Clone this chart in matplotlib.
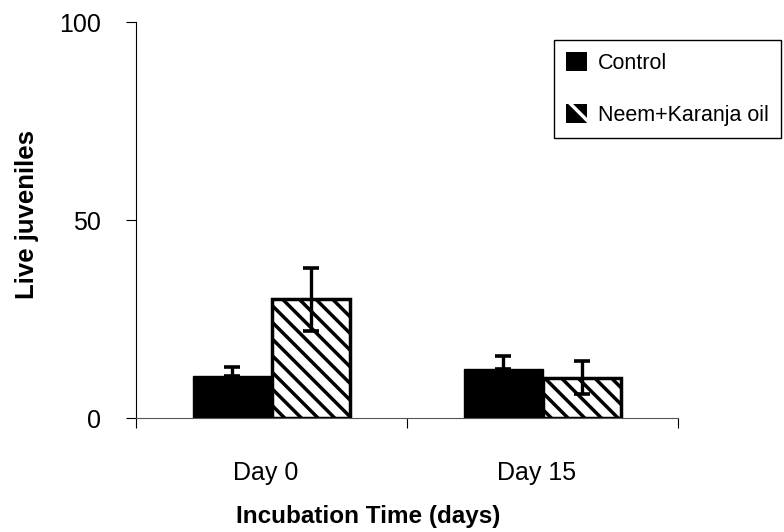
import numpy as np
import matplotlib.pyplot as plt
import matplotlib.transforms as mtransforms
from matplotlib.patches import Patch

plt.rcParams['font.family'] = ['Liberation Sans', 'DejaVu Sans']
plt.rcParams['hatch.linewidth'] = 2.5

# data
days = ['Day 0', 'Day 15']
control = [10.5, 12.4]
control_err = [2.3, 3.3]
neem = [30.0, 10.2]
neem_err = [8.0, 4.2]
y_ticks = [0, 50, 100]

fig = plt.figure(figsize=(7.84, 5.32), dpi=100)
ax = fig.add_axes([136 / 784, 1 - 418 / 532, 542 / 784, 396 / 532])

x = np.arange(len(days))
w = 0.29

# control bars, error bar only upward
ax.bar(x - w / 2, control, w, color='black', edgecolor='black', linewidth=1)
ax.errorbar(x - w / 2, control, yerr=[np.zeros(len(control)), control_err],
            fmt='none', ecolor='black', elinewidth=2.4, capsize=6, capthick=2.6)

# neem + karanja bars, hatched
ax.bar(x + w / 2, neem, w, color='white', edgecolor='black', linewidth=2.5,
       hatch='\\\\')
ax.errorbar(x + w / 2, neem, yerr=neem_err,
            fmt='none', ecolor='black', elinewidth=2.4, capsize=6, capthick=2.6)

ax.set_xlim(-0.5, 1.5)
ax.set_ylim(0, 100)
ax.set_yticks(y_ticks)
ax.tick_params(axis='y', labelsize=18, length=7, pad=18, width=0.8)

ax.set_xticks(x)
ax.set_xticklabels(days)
ax.set_xticks([-0.5, 0.5, 1.5], minor=True)
ax.tick_params(axis='x', which='major', length=0, labelsize=18, pad=31)
ax.tick_params(axis='x', which='minor', length=7, width=0.8)
shift = mtransforms.ScaledTranslation(-6 / 100, 0, fig.dpi_scale_trans)
for lbl in ax.get_xticklabels():
    lbl.set_transform(lbl.get_transform() + shift)

for s in ['top', 'right']:
    ax.spines[s].set_visible(False)
ax.spines['left'].set_linewidth(0.8)
ax.spines['bottom'].set_linewidth(0.8)
ax.spines['bottom'].set_color('#555555')

ax.set_ylabel('Live juveniles', fontsize=18.5, fontweight='bold', labelpad=15, y=0.513)
ax.set_xlabel('Incubation Time (days)', fontsize=17.5, fontweight='bold', labelpad=14, x=0.428)

# legend swatches: solid black, and black with white diagonal stripe
handles = [Patch(facecolor='black', edgecolor='black', linewidth=0),
           Patch(facecolor='black', edgecolor='white', linewidth=0, hatch='\\')]
labels = ['Control', 'Neem+Karanja oil']
fig.legend(handles, labels, loc='upper left', bbox_to_anchor=(554 / 784, 1 - 40 / 532),
           fontsize=15.5, frameon=True, fancybox=False, edgecolor='black',
           framealpha=1, handlelength=1.0, handleheight=1.0, handletextpad=0.5,
           labelspacing=1.4, borderpad=0.55, borderaxespad=0)

fig.savefig('out.png', dpi=100)
